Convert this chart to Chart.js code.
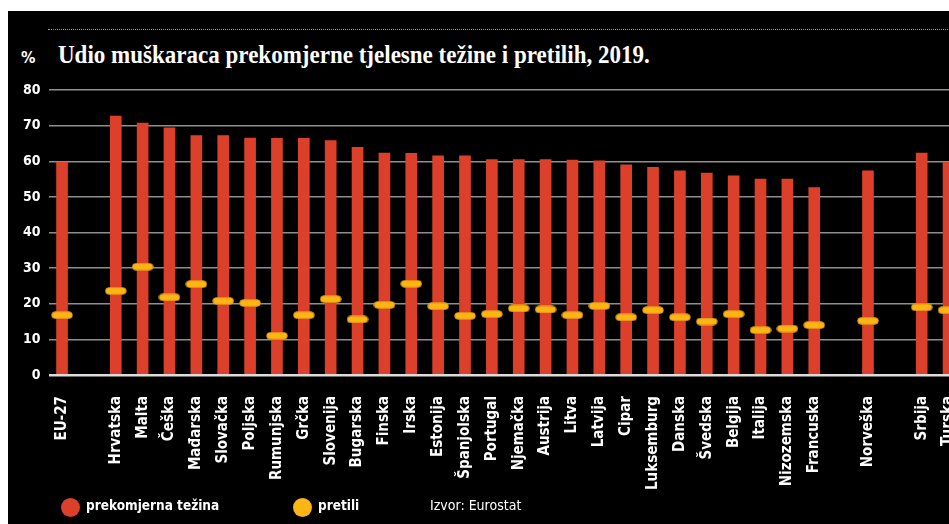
<!DOCTYPE html>
<html>
<head>
<meta charset="utf-8">
<script src="https://cdn.jsdelivr.net/npm/chart.js@4/dist/chart.umd.min.js"></script>
<style>
  html, body { margin: 0; padding: 0; background: #fff; overflow: hidden; }
  body { width: 949px; height: 524px; position: relative; }
  #panel { position: absolute; left: 8px; top: 11px; width: 960px; height: 520px; background: #000; }
  #dots { position: absolute; left: 48px; top: 29px; width: 910px; border-top: 1px dotted #9a9a9a; }
  #pct { position: absolute; left: 21px; top: 48px; color: #fff; font: bold 16px "DejaVu Sans Condensed", "DejaVu Sans", sans-serif; }
  #title { position: absolute; left: 58px; top: 41px; color: #fff; font: bold 25px "Liberation Serif", serif; white-space: nowrap; transform-origin: 0 0; }
  #chart { position: absolute; left: 0; top: 0; }
  .dot { position: absolute; width: 19px; height: 19px; border-radius: 50%; top: 498px; }
  .leg { position: absolute; top: 497px; color: #fff; font: bold 13.5px "DejaVu Sans Condensed", "DejaVu Sans", sans-serif; white-space: nowrap; }
</style>
</head>
<body>
<div id="panel"></div>
<div id="dots"></div>
<div id="pct">%</div>
<div id="title">Udio muškaraca prekomjerne tjelesne težine i pretilih, 2019.</div>
<canvas id="chart" width="967" height="524"></canvas>
<div class="dot" style="left:61px; background:#dc402b;"></div>
<div class="leg" style="left:86px;">prekomjerna težina</div>
<div class="dot" style="left:293px; background:#fbb514;"></div>
<div class="leg" style="left:318px;">pretili</div>
<div class="leg" style="left:430px; font-weight:normal; font-size:14px;">Izvor: Eurostat</div>
<script>
// Categories ('' = empty slot between groups)
const countries = ['EU-27', '', 'Hrvatska', 'Malta', 'Češka', 'Mađarska', 'Slovačka', 'Poljska',
  'Rumunjska', 'Grčka', 'Slovenija', 'Bugarska', 'Finska', 'Irska', 'Estonija', 'Španjolska',
  'Portugal', 'Njemačka', 'Austrija', 'Litva', 'Latvija', 'Cipar', 'Luksemburg', 'Danska',
  'Švedska', 'Belgija', 'Italija', 'Nizozemska', 'Francuska', '', 'Norveška', '', 'Srbija', 'Turska'];

// Overweight men (%)
const overweight = [59.7, null, 72.7, 70.7, 69.4, 67.2, 67.2, 66.5, 66.4, 66.4, 65.8, 63.9, 62.3, 62.2,
  61.5, 61.5, 60.5, 60.5, 60.5, 60.3, 60.1, 59.0, 58.3, 57.3, 56.7, 55.9, 55.0, 55.0, 52.6,
  null, 57.3, null, 62.3, 59.7];

// Obese men (%)
const obese = [16.8, null, 23.6, 30.4, 21.8, 25.5, 20.8, 20.2, 11.0, 16.8, 21.3, 15.6, 19.7, 25.6,
  19.3, 16.6, 17.1, 18.7, 18.4, 16.8, 19.4, 16.2, 18.2, 16.2, 15.0, 17.1, 12.6, 13.0, 14.0,
  null, 15.2, null, 19.0, 18.2];

// Y axis
const yMin = 0;
const yMax = 80;
const yStep = 10;

// fit title width
const title = document.getElementById('title');
title.style.transform = 'scaleX(' + (592 / title.offsetWidth) + ')';

// yellow pill used as point style
const pill = document.createElement('canvas');
pill.width = 22;
pill.height = 8;
const pc = pill.getContext('2d');
pc.fillStyle = '#fbb514';
pc.strokeStyle = '#e39a0c';
pc.lineWidth = 0.8;
pc.beginPath();
pc.moveTo(4, 0.7);
pc.lineTo(18, 0.7);
pc.arc(18, 4, 3.3, -Math.PI / 2, Math.PI / 2);
pc.lineTo(4, 7.3);
pc.arc(4, 4, 3.3, Math.PI / 2, Math.PI * 1.5);
pc.closePath();
pc.fill();
pc.stroke();

const labelFont = { family: '"DejaVu Sans Condensed", "DejaVu Sans", sans-serif', weight: 'bold' };

const ctx = document.getElementById('chart').getContext('2d');

new Chart(ctx, {
  type: 'bar',
  data: {
    labels: countries,
    datasets: [
      {
        type: 'line',
        label: 'pretili',
        data: obese,
        showLine: false,
        pointStyle: pill,
        order: 0
      },
      {
        label: 'prekomjerna težina',
        data: overweight,
        backgroundColor: '#dc402b',
        barThickness: 11,
        order: 1
      }
    ]
  },
  options: {
    responsive: false,
    animation: false,
    layout: { padding: { top: 90, right: 0, bottom: 0, left: 0 } },
    plugins: {
      legend: { display: false },
      tooltip: { enabled: false }
    },
    scales: {
      x: {
        grid: { display: false },
        border: { display: false },
        ticks: {
          color: '#fff',
          font: { ...labelFont, size: 15 },
          maxRotation: 90,
          minRotation: 90,
          autoSkip: false,
          padding: 13
        },
        afterFit: axis => {
          axis.height = 149;
          axis.paddingLeft = 0;
          axis.paddingRight = 0;
        }
      },
      y: {
        min: yMin,
        max: yMax,
        border: { display: false },
        grid: {
          drawTicks: false,
          color: c => c.tick.value === 0 ? '#dcdcdc' : '#8e8e8e',
          lineWidth: c => c.tick.value === 0 ? 2.5 : 1.5
        },
        ticks: {
          stepSize: yStep,
          color: '#fff',
          font: { ...labelFont, size: 14 },
          padding: 8
        },
        afterFit: axis => { axis.width = 48.6; }
      }
    }
  }
});
</script>
</body>
</html>
